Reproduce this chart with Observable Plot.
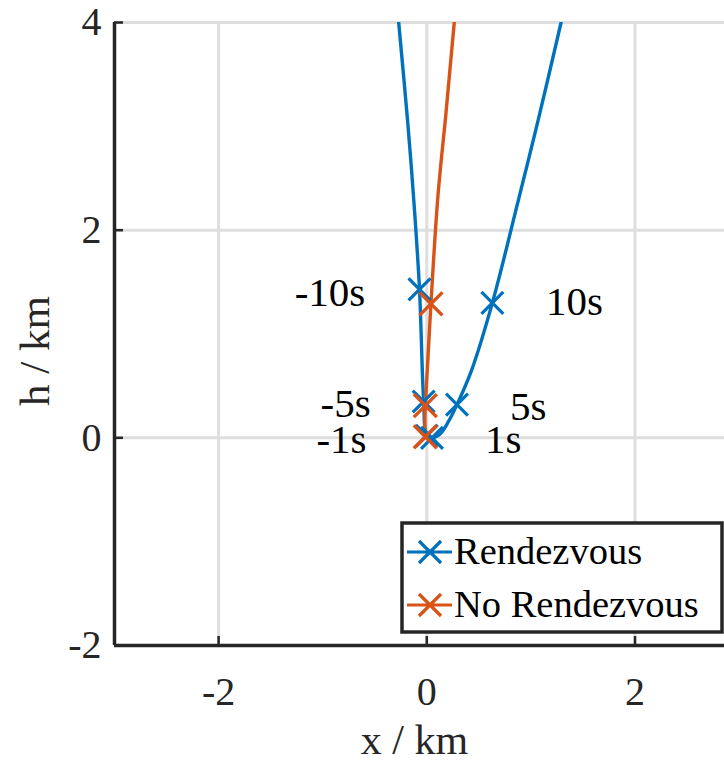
<!DOCTYPE html>
<html><head><meta charset="utf-8">
<script src="https://cdn.jsdelivr.net/npm/d3@7"></script>
<script src="https://cdn.jsdelivr.net/npm/@observablehq/plot@0.6"></script>
<style>
body{margin:0;background:#fff;}
#wrap{position:relative;width:724px;height:764px;overflow:hidden;}
#legend{position:absolute;left:400px;top:521px;}
</style></head><body><div id="wrap"></div>
<script>
// ---- data ----
const seriesNames = ["Rendezvous", "No Rendezvous"];
const seriesColors = ["#0072BD", "#D95319"];

// Rendezvous trajectory (x km, h km)
const rendezvousX = [-0.27, -0.185, -0.125, -0.07, -0.03, 0.0, 0.05, 0.13, 0.21, 0.29, 0.43, 0.63, 0.88, 1.07, 1.29];
const rendezvousH = [4.0, 3.06, 2.29, 1.43, 0.35, 0.02, 0.0, 0.04, 0.16, 0.32, 0.65, 1.30, 2.29, 3.06, 4.0];
// No rendezvous trajectory
const noRendezvousX = [0.264, 0.178, 0.104, 0.04, -0.014, -0.014];
const noRendezvousH = [4.0, 3.06, 2.29, 1.29, 0.31, 0.01];

// time markers
const rendezvousMarkX = [-0.07, -0.03, 0.0, 0.05, 0.29, 0.63];
const rendezvousMarkH = [1.43, 0.35, 0.02, 0.0, 0.32, 1.30];
const noRendezvousMarkX = [0.04, -0.014, -0.014];
const noRendezvousMarkH = [1.29, 0.31, 0.01];

// time annotations
const labelText = ["-10s", "-5s", "-1s", "1s", "5s", "10s"];
const labelX = [-0.93, -0.78, -0.82, 0.735, 0.975, 1.42];
const labelH = [1.40, 0.33, -0.02, -0.02, 0.30, 1.31];

const xTicks = [-2, 0, 2];
const yTicks = [-2, 0, 2, 4];
const xLabel = "x / km";
const yLabel = "h / km";

// ---- build ----
const fmt = d => (d < 0 ? "-" + Math.abs(d) : String(d));
const serif = '"Liberation Serif", "Times New Roman", serif';
const ink = "#262626";
const gridColor = "#dedede";

const rdv = rendezvousX.map((x, i) => ({x, h: rendezvousH[i]}));
const nordv = noRendezvousX.map((x, i) => ({x, h: noRendezvousH[i]}));
const rdvMarks = rendezvousMarkX.map((x, i) => ({x, h: rendezvousMarkH[i]}));
const nordvMarks = noRendezvousMarkX.map((x, i) => ({x, h: noRendezvousMarkH[i]}));
const labels = labelText.map((t, i) => ({t, x: labelX[i], h: labelH[i]}));

const chart = Plot.plot({
  width: 724, height: 764,
  marginLeft: 114, marginRight: 0, marginTop: 22, marginBottom: 119,
  x: {domain: [-3, 2.86]},
  y: {domain: [-2, 4]},
  style: {fontFamily: serif, fontSize: "40px", color: ink, background: "white", overflow: "visible"},
  marks: [
    Plot.gridX(xTicks, {stroke: gridColor, strokeOpacity: 1, strokeWidth: 3}),
    Plot.gridY(yTicks, {stroke: gridColor, strokeOpacity: 1, strokeWidth: 3}),
    Plot.line(rdv, {x: "x", y: "h", stroke: seriesColors[0], strokeWidth: 3.4, curve: "catmull-rom", clip: true}),
    Plot.line(nordv, {x: "x", y: "h", stroke: seriesColors[1], strokeWidth: 3.4, curve: "natural", clip: true}),
    Plot.dot(rdvMarks, {x: "x", y: "h", symbol: "times", r: 10, stroke: seriesColors[0], strokeWidth: 3.2}),
    Plot.dot(nordvMarks, {x: "x", y: "h", symbol: "times", r: 10.5, stroke: seriesColors[1], strokeWidth: 3.4}),
    Plot.text(labels, {x: "x", y: "h", text: "t", fill: "black", fontSize: 41, textAnchor: "middle", lineAnchor: "middle"}),
    Plot.ruleX([-3], {stroke: ink, strokeWidth: 3.5}),
    Plot.ruleY([-2], {stroke: ink, strokeWidth: 3.5}),
    Plot.axisX(xTicks, {tickSize: -9, tickPadding: 40, strokeWidth: 2.5, stroke: ink, fill: ink, tickFormat: fmt, label: null, fontSize: 40}),
    Plot.axisY(yTicks, {tickSize: -9, tickPadding: 22, strokeWidth: 2.5, stroke: ink, fill: ink, tickFormat: fmt, label: null, fontSize: 40}),
    Plot.text([xLabel], {frameAnchor: "bottom", dy: 95.5, dx: -5, fill: ink, fontSize: 42, textAnchor: "middle", lineAnchor: "middle"}),
    Plot.text([yLabel], {frameAnchor: "left", dx: -79, dy: 17, rotate: -90, fill: ink, fontSize: 43, textAnchor: "middle", lineAnchor: "middle"})
  ]
});
const wrap = document.getElementById("wrap");
wrap.appendChild(chart);

// ---- legend (inside plot area, top-left at 402,523) ----
const ns = "http://www.w3.org/2000/svg";
const lg = document.createElementNS(ns, "svg");
lg.setAttribute("id", "legend");
lg.setAttribute("width", 324);
lg.setAttribute("height", 114);
const rect = document.createElementNS(ns, "rect");
rect.setAttribute("x", 2); rect.setAttribute("y", 2);
rect.setAttribute("width", 320); rect.setAttribute("height", 109);
rect.setAttribute("fill", "white"); rect.setAttribute("stroke", ink); rect.setAttribute("stroke-width", 3.5);
lg.appendChild(rect);
seriesNames.forEach((name, i) => {
  const cy = 31 + i * 53;
  const p = document.createElementNS(ns, "path");
  const a = 11;
  p.setAttribute("d", `M7,${cy}H52M${30 - a},${cy - a}L${30 + a},${cy + a}M${30 - a},${cy + a}L${30 + a},${cy - a}`);
  p.setAttribute("stroke", seriesColors[i]);
  p.setAttribute("stroke-width", 3.2);
  p.setAttribute("fill", "none");
  lg.appendChild(p);
  const t = document.createElementNS(ns, "text");
  t.setAttribute("x", 54);
  t.setAttribute("y", cy + 12);
  t.setAttribute("font-family", serif);
  t.setAttribute("font-size", 38.5);
  t.setAttribute("fill", "black");
  t.textContent = name;
  lg.appendChild(t);
});
wrap.appendChild(lg);
</script>
</body></html>
